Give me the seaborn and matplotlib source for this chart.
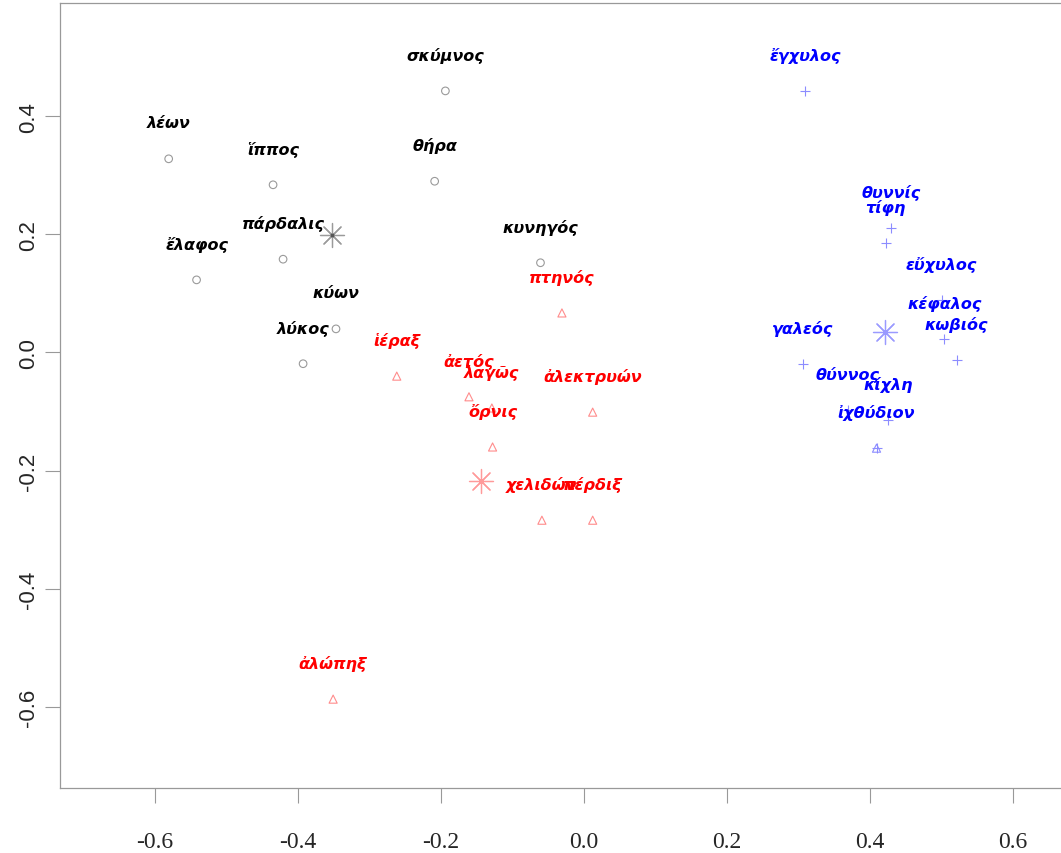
import matplotlib
matplotlib.use("Agg")
import matplotlib.pyplot as plt
import seaborn as sns
import pandas as pd

# --- land animals (open circles) ---
land_names = ["λέων", "ἵππος", "σκύμνος", "θήρα", "πάρδαλις", "ἔλαφος", "κυνηγός", "κύων", "λύκος"]
land_x = [-0.581, -0.435, -0.194, -0.209, -0.421, -0.542, -0.061, -0.347, -0.393]
land_y = [0.328, 0.284, 0.443, 0.290, 0.158, 0.123, 0.152, 0.040, -0.019]

# --- birds (open triangles) ---
bird_names = ["πτηνός", "ἱέραξ", "ἀετός", "λαγῶς", "ὄρνις", "ἀλεκτρυών", "χελιδών", "πέρδιξ", "ἀλώπηξ"]
bird_x = [-0.031, -0.262, -0.161, -0.129, -0.128, 0.012, -0.059, 0.012, -0.351]
bird_y = [0.067, -0.040, -0.075, -0.094, -0.160, -0.101, -0.284, -0.284, -0.587]

# --- fish (plus signs) ---
fish_names = ["ἔγχυλος", "θυννίς", "τίφη", "εὔχυλος", "κέφαλος", "κωβιός", "γαλεός", "θύννος", "κίχλη", "ἰχθύδιον"]
fish_x = [0.309, 0.429, 0.422, 0.500, 0.504, 0.521, 0.306, 0.369, 0.425, 0.409]
fish_y = [0.443, 0.211, 0.185, 0.089, 0.023, -0.013, -0.019, -0.097, -0.114, -0.162]

# --- group centres (asterisks) ---
centre_x = [-0.353, -0.144, 0.421]
centre_y = [0.199, -0.218, 0.035]

x_ticks = [-0.6, -0.4, -0.2, 0.0, 0.2, 0.4, 0.6]
y_ticks = [-0.6, -0.4, -0.2, 0.0, 0.2, 0.4]

sns.set_theme(style="white")
plt.rcParams["font.family"] = ["DejaVu Sans"]

W, H = 1061, 854
fig = plt.figure(figsize=(W / 100, H / 100), dpi=100)
xlim = (-0.733, 0.733)
ylim = (-0.7375, 0.5927)
left_px, bottom_px, top_px = 60, 789, 3.5
right_px = left_px + (xlim[1] - xlim[0]) * 715
ax = fig.add_axes([left_px / W, 1 - bottom_px / H,
                   (right_px - left_px) / W, (bottom_px - top_px) / H])

land = pd.DataFrame({"x": land_x, "y": land_y, "name": land_names})
bird = pd.DataFrame({"x": bird_x, "y": bird_y, "name": bird_names})
fish = pd.DataFrame({"x": fish_x, "y": fish_y, "name": fish_names})

sns.scatterplot(data=land, x="x", y="y", ax=ax, marker="o", s=30,
                facecolor="none", edgecolor="#9a9a9a", linewidth=0.8)
sns.scatterplot(data=bird, x="x", y="y", ax=ax, marker="^", s=34,
                facecolor="none", edgecolor="#ff8c8c", linewidth=0.8)
sns.scatterplot(data=fish, x="x", y="y", ax=ax, marker="+", s=60,
                color="#8c8cff", linewidth=0.8)
# the smallest fish sits on a triangle as well
sns.scatterplot(data=fish.iloc[[-1]], x="x", y="y", ax=ax, marker="^", s=34,
                facecolor="none", edgecolor="#8c8cff", linewidth=0.8)

centre_cols = ["#9a9a9a", "#ff9a9a", "#9a9aff"]
centres = pd.DataFrame({"x": centre_x, "y": centre_y, "g": ["land", "bird", "fish"]})
for (_, row), col in zip(centres.iterrows(), centre_cols):
    ax.scatter([row.x], [row.y], marker=(8, 2, 0), s=300, color=col, linewidth=0.9, zorder=3)
ax.scatter(centre_x[:1], centre_y[:1], marker="s", s=3, color="#555555", zorder=4)

label_font = dict(family=["DejaVu Sans"], style="italic", weight="bold", size=11.5)
for df, col in [(land, "black"), (bird, "#ff0000"), (fish, "#0000ff")]:
    for _, row in df.iterrows():
        ax.annotate(row["name"], (row.x, row.y), xytext=(0, 36), textcoords="offset pixels",
                    ha="center", va="center", color=col, **label_font)

ax.set_xlim(*xlim)
ax.set_ylim(*ylim)
ax.set_xticks(x_ticks)
ax.set_yticks(y_ticks)
ax.set_xticklabels([f"{v:.1f}" for v in x_ticks], family="Liberation Serif", size=17)
ax.set_yticklabels([f"{v:.1f}" for v in y_ticks], family="Liberation Sans", size=16,
                   rotation=90, va="center")
ax.set_xlabel("")
ax.set_ylabel("")
ax.tick_params(axis="both", direction="out", length=11, width=0.8, color="#999999",
               left=True, bottom=True)
ax.tick_params(axis="x", pad=20)
ax.tick_params(axis="y", pad=4)
for side in ["left", "bottom", "top", "right"]:
    ax.spines[side].set_visible(True)
    ax.spines[side].set_color("#999999")
    ax.spines[side].set_linewidth(0.9)

fig.savefig("out.png", dpi=100)
